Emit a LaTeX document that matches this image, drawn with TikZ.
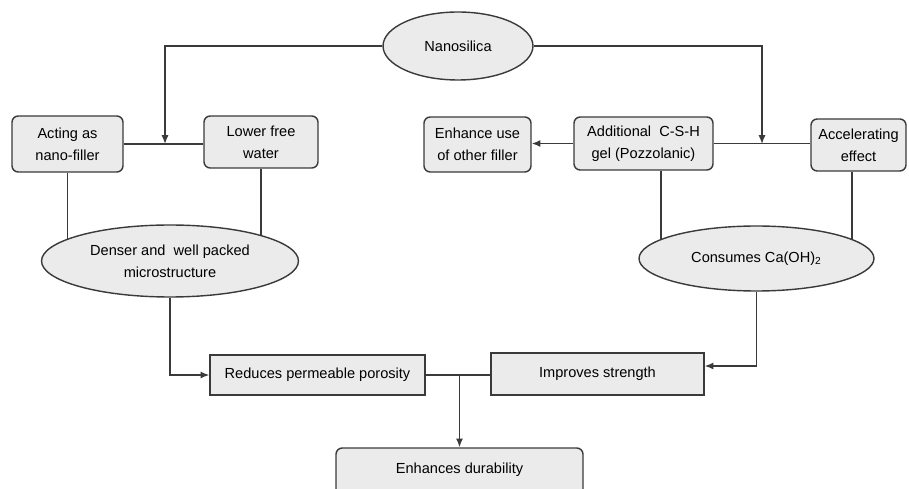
\documentclass[tikz,border=0pt]{standalone}
\usepackage{fontspec}
\setmainfont{Liberation Sans}
\usetikzlibrary{arrows.meta, shapes.geometric, backgrounds}

\definecolor{boxgray}{HTML}{EBEBEB}
\definecolor{linegray}{HTML}{3A3A3A}

\tikzset{
  base/.style={draw=linegray, fill=boxgray, line width=0.8pt, inner sep=0pt,
    align=center, font=\fontsize{8.3}{12.5}\selectfont},
  rbox/.style={base, rectangle, rounded corners=3.5pt},
  sbox/.style={base, rectangle},
  oval/.style={base, ellipse},
  link/.style={draw=linegray, line width=0.8pt}
}

\begin{document}
\begin{tikzpicture}[x=0.02cm, y=-0.02cm, >={Latex[length=5pt,width=4pt]}]
\clip (0,0) rectangle (909,489);

% top
\node[oval, minimum width=3cm, minimum height=1.36cm] (nano) at (458,46) {Nanosilica};

% left branch
\node[rbox, minimum width=2.22cm, minimum height=1.12cm] (filler) at (67.5,144) {Acting as\\nano-filler};
\node[rbox, minimum width=2.28cm, minimum height=1.04cm] (water) at (261,142) {Lower free\\water};
\node[oval, minimum width=5.14cm, minimum height=1.44cm] (denser) at (170,261) {Denser and \ well packed\\microstructure};

% right branch
\node[rbox, minimum width=2.14cm, minimum height=1.1cm] (enhuse) at (477.5,144.5) {Enhance use\\of other filler};
\node[rbox, minimum width=2.78cm, minimum height=1.06cm] (csh) at (643.5,143.5) {Additional \ C-S-H\\gel (Pozzolanic)};
\node[rbox, minimum width=1.9cm, minimum height=1.04cm] (accel) at (858.5,145) {Accelerating\\effect};
\node[oval, minimum width=4.7cm, minimum height=1.3cm] (consume) at (756.5,258.5) {Consumes Ca(OH)\textsubscript{2}};

% results
\node[sbox, minimum width=4.3cm, minimum height=0.8cm] (reduce) at (317.5,375) {Reduces permeable porosity};
\node[sbox, minimum width=4.26cm, minimum height=0.84cm] (improve) at (597.5,374) {Improves strength};
\node[rbox, minimum width=4.94cm, minimum height=1.2cm, text height=6.3pt, text depth=11.5pt] (durab) at (459.5,478) {Enhances durability};

\coordinate (jl) at (165,144);
\coordinate (jr) at (762,144);
\coordinate (jd) at (durab.north |- reduce.east);

\draw[link,->] (nano.west) -| (jl);
\draw[link,->] (nano.east) -| (jr);
\draw[link] (filler.east) -- (filler.east -| water.west);
\draw[link] (csh.east) -- (csh.east -| accel.west);
\draw[link,->] (csh.west) -- (csh.west -| enhuse.east);
\draw[link,->] (denser.south) |- (reduce.west);
\draw[link,->] (consume.south) |- ([yshift=0.16cm]improve.east);
\draw[link] (reduce.east) -- (reduce.east -| improve.west);
\draw[link,->] (jd) -- (durab.north);

\begin{pgfonlayer}{background}
  \draw[link] (filler.south) -- (filler.south |- denser.center);
  \draw[link] (water.south) -- (water.south |- denser.center);
  \draw[link] ([xshift=0.35cm]csh.south) -- ++(0,100);
  \draw[link] ([xshift=-0.13cm]accel.south) -- ++(0,100);
\end{pgfonlayer}
\end{tikzpicture}
\end{document}
